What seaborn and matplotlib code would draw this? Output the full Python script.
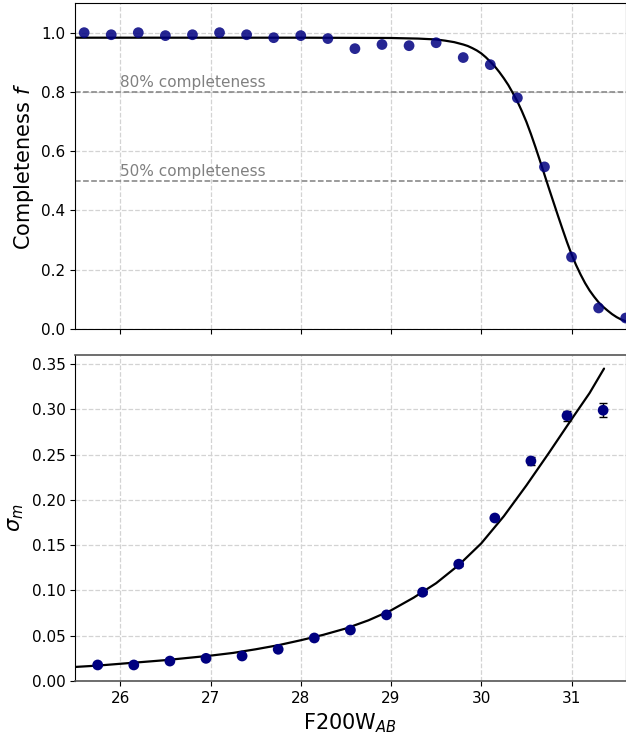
import numpy as np
import pandas as pd
import matplotlib
matplotlib.use("Agg")
import matplotlib.pyplot as plt
import seaborn as sns

# completeness measurements (top panel)
mag_comp = [25.6, 25.9, 26.2, 26.5, 26.8, 27.1, 27.4, 27.7, 28.0, 28.3, 28.6,
            28.9, 29.2, 29.5, 29.8, 30.1, 30.4, 30.7, 31.0, 31.3, 31.6]
comp = [1.0, 0.993, 1.0, 0.99, 0.993, 1.0, 0.993, 0.983, 0.99, 0.98, 0.946,
        0.96, 0.956, 0.966, 0.916, 0.892, 0.78, 0.547, 0.243, 0.071, 0.037]

# fitted completeness curve
mag_fit = [25.5, 26.0, 27.0, 28.0, 29.0, 29.3, 29.5, 29.6, 29.7, 29.8,
           29.85, 29.9, 29.95, 30.0, 30.05, 30.1, 30.15, 30.2, 30.25, 30.3,
           30.35, 30.4, 30.45, 30.5, 30.55, 30.6, 30.65, 30.7, 30.75, 30.8,
           30.85, 30.9, 30.95, 31.0, 31.05, 31.1, 31.15, 31.2, 31.25, 31.3,
           31.35, 31.4, 31.45, 31.5, 31.55, 31.6]
comp_fit = [0.983, 0.983, 0.983, 0.983, 0.982, 0.980, 0.977, 0.973, 0.968,
            0.960, 0.955, 0.948, 0.940, 0.930, 0.917, 0.902, 0.886, 0.867,
            0.846, 0.823, 0.796, 0.768, 0.735, 0.699, 0.658, 0.614, 0.568,
            0.521, 0.474, 0.428, 0.382, 0.337, 0.293, 0.252, 0.216, 0.184,
            0.155, 0.130, 0.109, 0.090, 0.075, 0.062, 0.050, 0.040, 0.032,
            0.026]

# photometric scatter (bottom panel)
mag_sig = [25.75, 26.15, 26.55, 26.95, 27.35, 27.75, 28.15, 28.55, 28.95,
           29.35, 29.75, 30.15, 30.55, 30.95, 31.35]
sigma = [0.0177, 0.0177, 0.022, 0.025, 0.0276, 0.035, 0.0475, 0.0563, 0.073,
         0.098, 0.129, 0.180, 0.243, 0.293, 0.299]
sigma_err = [0.001, 0.001, 0.001, 0.001, 0.001, 0.001, 0.001, 0.001, 0.001,
             0.0015, 0.0015, 0.002, 0.004, 0.0055, 0.0075]

# fitted sigma curve
mag_sfit = [25.5, 25.75, 26.0, 26.25, 26.5, 26.75, 27.0, 27.25, 27.5, 27.75,
            28.0, 28.25, 28.5, 28.75, 29.0, 29.25, 29.5, 29.75, 30.0, 30.25,
            30.5, 30.75, 31.0, 31.2, 31.36]
sig_fit = [0.0155, 0.017, 0.019, 0.021, 0.023, 0.0255, 0.028, 0.031, 0.035,
           0.0395, 0.045, 0.051, 0.058, 0.067, 0.078, 0.092, 0.108, 0.128,
           0.152, 0.182, 0.216, 0.252, 0.289, 0.318, 0.345]

sns.set_style("ticks")
plt.rcParams.update({"text.color": "black", "axes.labelcolor": "black",
                     "xtick.color": "black", "ytick.color": "black",
                     "axes.edgecolor": "black"})
fig = plt.figure(figsize=(6.26, 7.37), dpi=100)
ax1 = fig.add_axes([0.12, 0.5536, 0.8795, 0.4423])
ax2 = fig.add_axes([0.12, 0.076, 0.8795, 0.4423], sharex=ax1)

grid_kw = dict(ls="--", color="lightgray", lw=0.9)

# top: completeness
ax1.grid(True, **grid_kw)
ax1.set_axisbelow(True)
sns.lineplot(x=mag_fit, y=comp_fit, ax=ax1, color="black", lw=1.6, zorder=3)
sns.scatterplot(x=mag_comp, y=comp, ax=ax1, color="navy", alpha=0.85,
                s=60, edgecolor="none", zorder=4)
ax1.axhline(0.8, color="gray", ls="--", lw=1.1)
ax1.axhline(0.5, color="gray", ls="--", lw=1.1)
ax1.text(26.0, 0.815, "80% completeness", color="gray", fontsize=11)
ax1.text(26.0, 0.515, "50% completeness", color="gray", fontsize=11)
ax1.set_ylim(0, 1.1)
ax1.set_ylabel("Completeness $f$", fontsize=15)
ax1.tick_params(labelbottom=False, labelsize=11)

# bottom: sigma_m
ax2.grid(True, **grid_kw)
ax2.set_axisbelow(True)
sns.lineplot(x=mag_sfit, y=sig_fit, ax=ax2, color="black", lw=1.6, zorder=3)
ax2.errorbar(mag_sig, sigma, yerr=sigma_err, fmt="none", ecolor="black",
             capsize=3, lw=1, zorder=4)
sns.scatterplot(x=mag_sig, y=sigma, ax=ax2, color="navy", s=60,
                edgecolor="none", zorder=5)
ax2.set_ylim(0, 0.36)
ax2.set_yticks([0, 0.05, 0.1, 0.15, 0.2, 0.25, 0.3, 0.35])
ax2.set_xlim(25.5, 31.6)
ax2.set_ylabel(r"$\sigma_m$", fontsize=15)
ax2.set_xlabel(r"F200W$_{AB}$", fontsize=15)
ax2.tick_params(labelsize=11)
for s in ["top", "bottom"]:
    ax2.spines[s].set_color("#555555")
    ax2.spines[s].set_linewidth(1.2)

fig.savefig("out.png", dpi=100)
